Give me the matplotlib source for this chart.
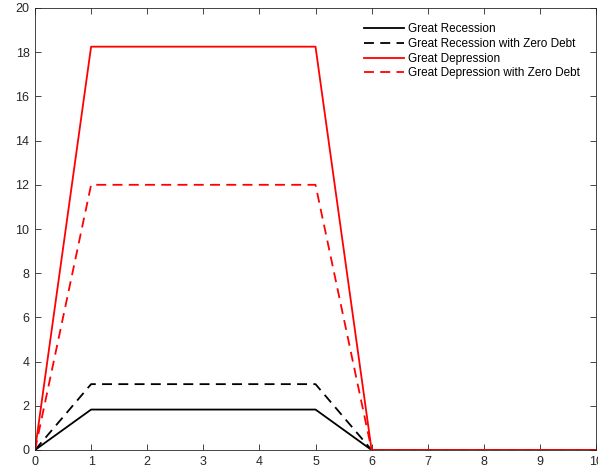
import matplotlib
matplotlib.use("Agg")
import matplotlib.pyplot as plt
import numpy as np

# Datos
periodos = [0, 1, 2, 3, 4, 5, 6, 7, 8, 9, 10]
recesion = [0, 1.83, 1.83, 1.83, 1.83, 1.83, 0, 0, 0, 0, 0]
recesion_cero = [0, 2.98, 2.98, 2.98, 2.98, 2.98, 0, 0, 0, 0, 0]
depresion = [0, 18.25, 18.25, 18.25, 18.25, 18.25, 0, 0, 0, 0, 0]
depresion_cero = [0, 12.0, 12.0, 12.0, 12.0, 12.0, 0, 0, 0, 0, 0]

plt.rcParams["font.family"] = ["Liberation Sans", "DejaVu Sans"]

fig = plt.figure(figsize=(5.98, 4.76), dpi=100)
ax = fig.add_axes([35 / 598, 26 / 476, 561 / 598, 442 / 476])

dash = (0, (5.5, 3.5))
ax.plot(periodos, recesion, color="black", lw=1.3, label="Great Recession")
ax.plot(periodos, recesion_cero, color="black", lw=1.3, linestyle=dash,
        label="Great Recession with Zero Debt")
ax.plot(periodos, depresion, color="#ff0000", lw=1.3, label="Great Depression")
ax.plot(periodos, depresion_cero, color="#ff0000", lw=1.3, linestyle=dash,
        label="Great Depression with Zero Debt")

ax.set_xlim(0, 10)
ax.set_ylim(0, 20)
ax.set_xticks(range(0, 11))
ax.set_yticks(range(0, 21, 2))

for s in ax.spines.values():
    s.set_color("#262626")
    s.set_linewidth(0.6)
ax.tick_params(direction="in", top=True, right=True, length=4, width=0.6,
               colors="#262626", labelsize=9, pad=4)
ax.tick_params(axis="x", pad=4)

ax.legend(loc="upper right", bbox_to_anchor=(0.986, 0.984), frameon=False,
          fontsize=8.5, handlelength=3.4, handletextpad=0.35,
          labelspacing=0.23, borderaxespad=0.3)

fig.savefig("out.png", dpi=100)
